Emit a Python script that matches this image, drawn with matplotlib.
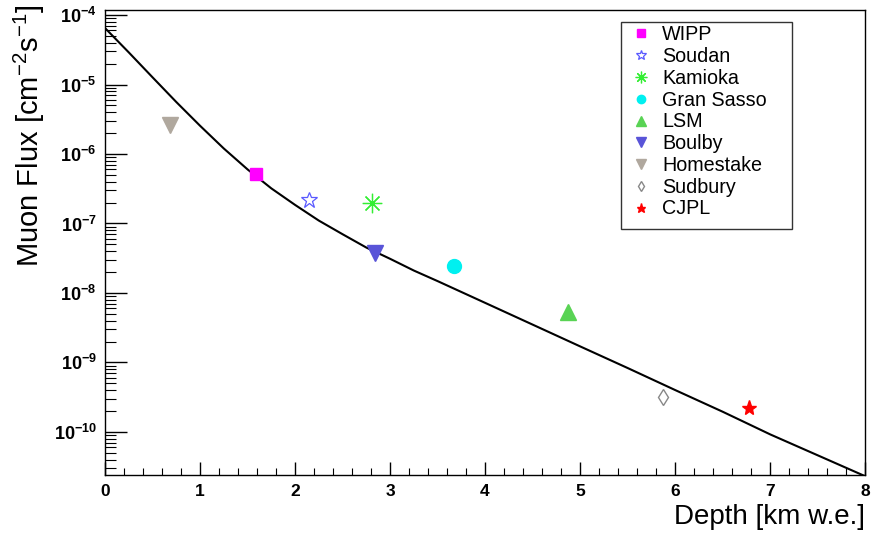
import numpy as np
import matplotlib
matplotlib.use('Agg')
import matplotlib.pyplot as plt
from matplotlib.patches import Rectangle
from matplotlib.ticker import LogLocator, FixedLocator, NullFormatter, FuncFormatter

plt.rcParams['font.family'] = ['Liberation Sans', 'DejaVu Sans']
plt.rcParams['mathtext.fontset'] = 'custom'
plt.rcParams['mathtext.rm'] = 'Liberation Sans'
plt.rcParams['mathtext.bf'] = 'Liberation Sans:bold'

# depth-intensity curve
curve_depth = [0, 0.25, 0.5, 0.75, 1.0, 1.25, 1.5, 1.75, 2.0, 2.25, 2.5, 2.75,
               3.0, 3.25, 3.5, 4.0, 4.5, 5.0, 5.5, 6.0, 6.5, 7.0, 7.5, 8.0]
curve_flux = [6.5e-5, 2.9e-5, 1.27e-5, 5.6e-6, 2.55e-6, 1.2e-6, 6.0e-7, 3.2e-7,
              1.85e-7, 1.1e-7, 7.0e-8, 4.5e-8, 3.1e-8, 2.1e-8, 1.48e-8, 7.2e-9,
              3.5e-9, 1.7e-9, 8.3e-10, 4.0e-10, 1.95e-10, 9.2e-11, 4.6e-11, 2.3e-11]

# laboratories
labs = ['WIPP', 'Soudan', 'Kamioka', 'Gran Sasso', 'LSM', 'Boulby',
        'Homestake', 'Sudbury', 'CJPL']
lab_depth = [1.59, 2.15, 2.81, 3.67, 4.87, 2.84, 0.68, 5.87, 6.78]
lab_flux = [5.15e-7, 2.18e-7, 2.0e-7, 2.45e-8, 5.25e-9, 3.8e-8, 2.6e-6, 3.2e-10, 2.2e-10]

x_ticks = [0, 1, 2, 3, 4, 5, 6, 7, 8]
y_ticks = [1e-10, 1e-9, 1e-8, 1e-7, 1e-6, 1e-5, 1e-4]

styles = {
    'WIPP':       dict(marker='s', color='#ff00ff', ms=9, mfc='#ff00ff'),
    'Soudan':     dict(marker='*', color='#5a5aff', ms=12, mfc='none', mew=0.9),
    'Kamioka':    dict(marker=(8, 2, 0), color='#33ee33', ms=14, mew=0.9),
    'Gran Sasso': dict(marker='o', color='#00f0f0', ms=10, mfc='#00f0f0'),
    'LSM':        dict(marker='^', color='#59d354', ms=12, mfc='#59d354'),
    'Boulby':     dict(marker='v', color='#5954d8', ms=12, mfc='#5954d8'),
    'Homestake':  dict(marker='v', color='#b0a89e', ms=12, mfc='#b0a89e'),
    'Sudbury':    dict(marker='d', color='#888888', ms=8, mfc='none', mew=1.0),
    'CJPL':       dict(marker='*', color='#ff0000', ms=11, mfc='#ff0000'),
}

fig = plt.figure(figsize=(8.72, 5.36), dpi=100)
ax = fig.add_axes([0.1204, 0.1138, 0.872, 0.8675])

ax.plot(curve_depth, curve_flux, color='black', lw=1.5)

for name, d, f in zip(labs, lab_depth, lab_flux):
    ax.plot([d], [f], linestyle='none', label=name, **styles[name])

ax.set_yscale('log')
ax.set_xlim(0, 8)
ax.set_ylim(2.4e-11, 1.18e-4)

ax.xaxis.set_major_locator(FixedLocator(x_ticks))
ax.xaxis.set_minor_locator(FixedLocator(np.arange(0, 8.01, 0.2)))
ax.yaxis.set_major_locator(FixedLocator(y_ticks))
ax.yaxis.set_minor_locator(LogLocator(base=10, subs=np.arange(2, 10), numticks=20))
ax.yaxis.set_minor_formatter(NullFormatter())
ax.xaxis.set_major_formatter(FuncFormatter(lambda v, p: r'$\mathbf{%d}$' % int(round(v))))
ax.yaxis.set_major_formatter(FuncFormatter(
    lambda v, p: r'$\mathbf{10^{%d}}$' % int(round(np.log10(v)))))

ax.tick_params(axis='both', which='both', direction='in', top=False, right=False)
ax.tick_params(axis='x', which='major', length=9.5, width=1, labelsize=12.5, pad=6)
ax.tick_params(axis='x', which='minor', length=5, width=0.8)
ax.tick_params(axis='y', which='major', length=16, width=1, labelsize=13, pad=6)
ax.tick_params(axis='y', which='minor', length=8, width=0.8)
for s in ax.spines.values():
    s.set_linewidth(1.0)

ax.set_xlabel('Depth [km w.e.]', fontsize=20, loc='right')
ax.xaxis.set_label_coords(1.0, -0.063)
ax.set_ylabel(r'Muon Flux [cm$^{-2}$s$^{-1}$]', fontsize=21, loc='top')
ax.yaxis.set_label_coords(-0.076, 1.011)

# legend box (drawn separately so its size matches the reference)
ax.add_patch(Rectangle((0.679, 0.53), 0.225, 0.444, transform=ax.transAxes,
                       facecolor='white', edgecolor='#333333', lw=1.0, zorder=4))
leg = ax.legend(loc='upper left', bbox_to_anchor=(0.690, 0.967), fontsize=14.2,
                frameon=False, markerscale=0.6, handlelength=1.2,
                handletextpad=0.45, labelspacing=0.14, borderpad=0.0,
                borderaxespad=0)
leg.set_zorder(5)

fig.savefig('out.png', dpi=100)
